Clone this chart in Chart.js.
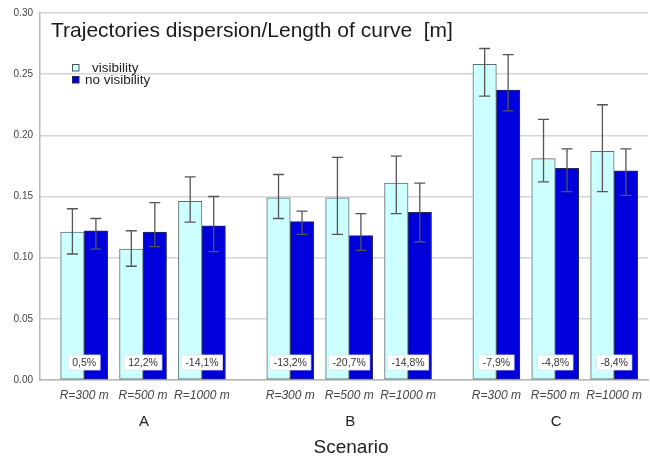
<!DOCTYPE html>
<html>
<head>
<meta charset="utf-8">
<script src="https://cdn.jsdelivr.net/npm/chart.js@4.4.1/dist/chart.umd.min.js"></script>
<style>
  html, body { margin: 0; padding: 0; background: #ffffff; }
  #wrap { width: 650px; height: 459px; }
</style>
</head>
<body>
<div id="wrap"><canvas id="c" width="650" height="459"></canvas></div>
<script>
// ---- data ----
const groups = ["A", "B", "C"];
const radii = ["R=300 m", "R=500 m", "R=1000 m"];
const tickLabels = ["R=300 m", "R=500 m", "R=1000 m", "R=300 m", "R=500 m", "R=1000 m", "R=300 m", "R=500 m", "R=1000 m"];
const visibility   = [0.121, 0.107, 0.146, 0.149, 0.149, 0.161, 0.258, 0.181, 0.187];
const noVisibility = [0.122, 0.121, 0.126, 0.1295, 0.118, 0.137, 0.237, 0.173, 0.171];
const visLow    = [0.103, 0.093, 0.129, 0.132, 0.119, 0.136, 0.232, 0.162, 0.154];
const visHigh   = [0.140, 0.122, 0.166, 0.168, 0.182, 0.183, 0.271, 0.213, 0.225];
const noVisLow  = [0.107, 0.109, 0.105, 0.119, 0.106, 0.113, 0.220, 0.154, 0.151];
const noVisHigh = [0.132, 0.145, 0.150, 0.138, 0.136, 0.161, 0.266, 0.189, 0.189];
const diffLabels = ["0,5%", "12,2%", "-14,1%", "-13,2%", "-20,7%", "-14,8%", "-7,9%", "-4,8%", "-8,4%"];
const yTicks = [0, 0.05, 0.10, 0.15, 0.20, 0.25, 0.30];
const titleText = "Trajectories dispersion/Length of curve  [m]";
const xTitle = "Scenario";
const seriesNames = ["visibility", "no visibility"];

// layout: 3 bars per group, group gap of 1.5 slots
const positions = tickLabels.map((_, i) => Math.floor(i / 3) * 7 + (i % 3) * 2);
const groupCenters = groups.map((_, g) => g * 7 + 2);

const FONT = "'Liberation Sans', Arial, sans-serif";
const VIS_FILL = "#ccffff", VIS_BORDER = "#5e6e70";
const NV_FILL = "#0000dc", NV_BORDER = "#2a2a60";

const errorBars = {
  id: "errorBars",
  afterDatasetsDraw(chart) {
    const ctx = chart.ctx, ys = chart.scales.y;
    const lows = [visLow, noVisLow], highs = [visHigh, noVisHigh];
    ctx.save();
    ctx.strokeStyle = "#555555";
    ctx.lineWidth = 1.3;
    chart.data.datasets.forEach((ds, di) => {
      chart.getDatasetMeta(di).data.forEach((bar, i) => {
        const x = bar.x;
        const y1 = ys.getPixelForValue(lows[di][i]);
        const y2 = ys.getPixelForValue(highs[di][i]);
        ctx.beginPath();
        ctx.moveTo(x, y1); ctx.lineTo(x, y2);
        ctx.moveTo(x - 5.5, y1); ctx.lineTo(x + 5.5, y1);
        ctx.moveTo(x - 5.5, y2); ctx.lineTo(x + 5.5, y2);
        ctx.stroke();
      });
    });
    // percentage boxes
    ctx.font = "10.5px " + FONT;
    ctx.textAlign = "center";
    ctx.textBaseline = "middle";
    diffLabels.forEach((t, i) => {
      const cx = chart.scales.x.getPixelForValue(positions[i]);
      const cy = 362.5;
      const w = ctx.measureText(t).width + 8;
      ctx.fillStyle = "#ffffff";
      ctx.fillRect(cx - w / 2, cy - 7.5, w, 15);
      ctx.strokeStyle = "#e4e4e4";
      ctx.lineWidth = 0.8;
      ctx.strokeRect(cx - w / 2, cy - 7.5, w, 15);
      ctx.fillStyle = "#333333";
      ctx.fillText(t, cx, cy + 0.5);
    });
    ctx.restore();
  },
  afterDraw(chart) {
    const ctx = chart.ctx, xs = chart.scales.x;
    ctx.save();
    // title
    ctx.fillStyle = "#1a1a1a";
    ctx.font = "21px " + FONT;
    ctx.textAlign = "left";
    ctx.textBaseline = "alphabetic";
    ctx.fillText(titleText, 51, 37);
    // legend
    ctx.lineWidth = 1;
    ctx.fillStyle = VIS_FILL; ctx.strokeStyle = "#4a5a5a";
    ctx.fillRect(72.5, 64.5, 6.5, 6.5); ctx.strokeRect(72.5, 64.5, 6.5, 6.5);
    ctx.fillStyle = NV_FILL; ctx.strokeStyle = "#222255";
    ctx.fillRect(72.5, 76.5, 6.5, 6.5); ctx.strokeRect(72.5, 76.5, 6.5, 6.5);
    ctx.fillStyle = "#222222";
    ctx.font = "13.5px " + FONT;
    ctx.textBaseline = "middle";
    ctx.fillText(seriesNames[0], 92, 68);
    ctx.fillText(seriesNames[1], 85, 80);
    // group labels
    ctx.textAlign = "center";
    ctx.font = "15px " + FONT;
    groups.forEach((g, i) => {
      ctx.fillText(g, xs.getPixelForValue(groupCenters[i]) + 1, 422);
    });
    // axis title
    ctx.font = "19px " + FONT;
    ctx.fillText(xTitle, 351, 448);
    ctx.restore();
  }
};

new Chart(document.getElementById("c"), {
  type: "bar",
  data: {
    datasets: [
      {
        label: seriesNames[0],
        data: visibility.map((v, i) => ({ x: positions[i], y: v })),
        backgroundColor: VIS_FILL,
        borderColor: VIS_BORDER,
        borderWidth: 1,
        borderSkipped: false
      },
      {
        label: seriesNames[1],
        data: noVisibility.map((v, i) => ({ x: positions[i], y: v })),
        backgroundColor: NV_FILL,
        borderColor: NV_BORDER,
        borderWidth: 1,
        borderSkipped: false
      }
    ]
  },
  options: {
    responsive: false,
    devicePixelRatio: 1,
    animation: false,
    barThickness: 23.5,
    layout: { padding: { top: 12, right: 0, left: 0, bottom: 0 } },
    plugins: { legend: { display: false }, tooltip: { enabled: false } },
    scales: {
      x: {
        type: "linear",
        min: -1.5,
        max: 19.15,
        offset: false,
        grid: { display: false, drawTicks: false, offset: false },
        border: { display: true, color: "#b8b8b8", width: 1.5 },
        afterBuildTicks: (scale) => { scale.ticks = positions.map(v => ({ value: v })); },
        afterFit: (scale) => { scale.height = 79; },
        ticks: {
          autoSkip: false,
          maxRotation: 0,
          minRotation: 0,
          padding: 8,
          color: "#444444",
          font: { family: FONT, size: 12, style: "italic" },
          callback: (v) => { const i = positions.indexOf(v); return i >= 0 ? tickLabels[i] : ""; }
        }
      },
      y: {
        type: "linear",
        min: 0,
        max: 0.3,
        afterBuildTicks: (scale) => { scale.ticks = yTicks.map(v => ({ value: v })); },
        afterFit: (scale) => { scale.width = 40; },
        grid: { color: "#d6d6d6", lineWidth: 1.5, drawTicks: false },
        border: { display: true, color: "#b8b8b8", width: 1.5 },
        ticks: {
          padding: 7,
          color: "#444444",
          font: { family: FONT, size: 10 },
          callback: (v) => Number(v).toFixed(2)
        }
      }
    }
  },
  plugins: [errorBars]
});
</script>
</body>
</html>
